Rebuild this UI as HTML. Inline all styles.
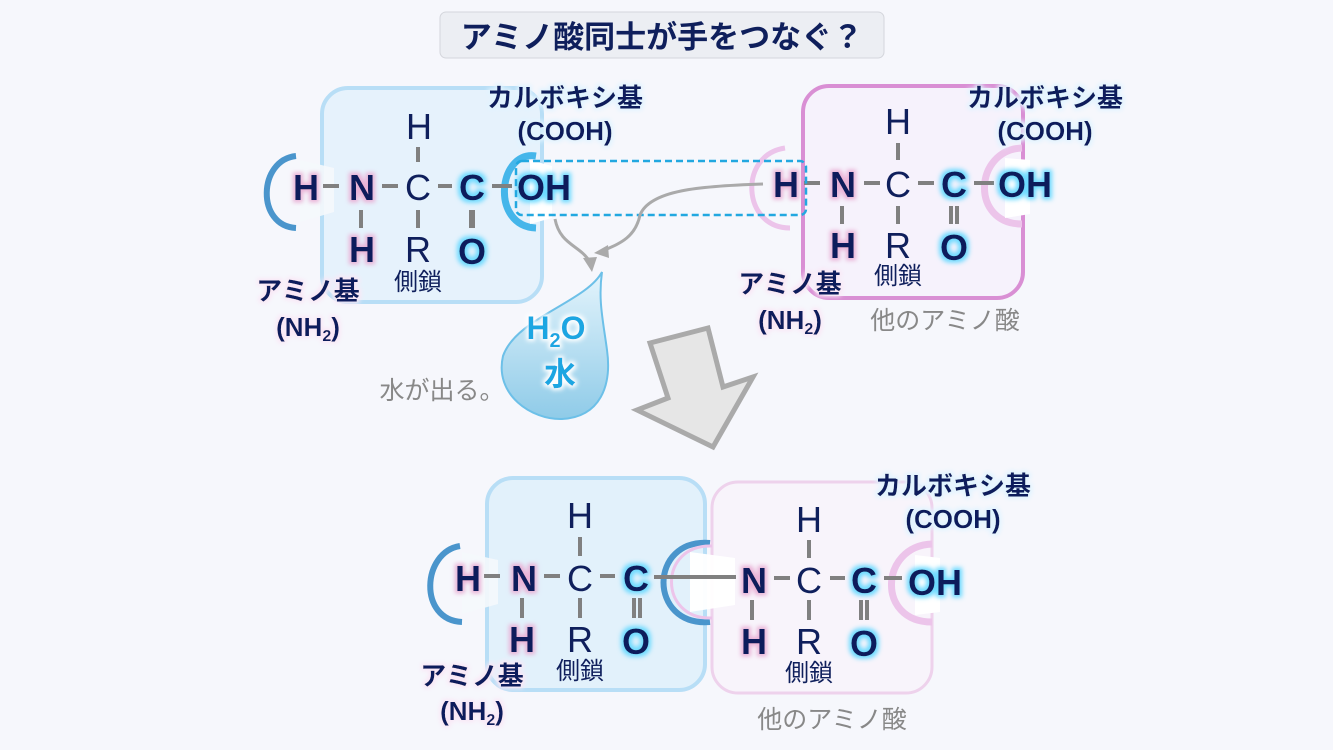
<!DOCTYPE html>
<html><head><meta charset="utf-8"><style>
html,body{margin:0;padding:0;background:#f6f7fc;}
svg{display:block;}
text{font-family:"Liberation Sans","Noto Sans CJK JP",sans-serif;}
.a{font-size:36px;fill:#0f1f5c;text-anchor:middle;}
.b{font-weight:bold;}
.lbl{font-size:26px;font-weight:bold;fill:#0f1f5c;text-anchor:middle;}
.sc{font-size:24px;fill:#0f1f5c;text-anchor:middle;font-family:"Noto Sans CJK JP",sans-serif;}
.gr{font-size:25px;fill:#888;text-anchor:middle;font-family:"Noto Sans CJK JP",sans-serif;}
</style></head><body>
<svg width="1333" height="750" viewBox="0 0 1333 750" xmlns="http://www.w3.org/2000/svg">
<defs>
<filter id="gp" x="-50%" y="-50%" width="200%" height="200%"><feMorphology in="SourceAlpha" operator="dilate" radius="2.5" result="d"/><feGaussianBlur in="d" stdDeviation="2"/><feColorMatrix type="matrix" values="0 0 0 0 0.82 0 0 0 0 0.45 0 0 0 0 0.68 0 0 0 1 0"/><feMerge><feMergeNode/><feMergeNode in="SourceGraphic"/></feMerge></filter>
<filter id="gb" x="-50%" y="-50%" width="200%" height="200%"><feMorphology in="SourceAlpha" operator="dilate" radius="2.5" result="d"/><feGaussianBlur in="d" stdDeviation="2.5"/><feColorMatrix type="matrix" values="0 0 0 0 0.15 0 0 0 0 0.7 0 0 0 0 1 0 0 0 1 0"/><feMerge><feMergeNode/><feMergeNode in="SourceGraphic"/></feMerge></filter>
<filter id="gw" x="-20%" y="-50%" width="140%" height="200%"><feMorphology in="SourceAlpha" operator="dilate" radius="2" result="d"/><feGaussianBlur in="d" stdDeviation="2"/><feColorMatrix type="matrix" values="0 0 0 0 1 0 0 0 0 1 0 0 0 0 1 0 0 0 1 0"/><feMerge><feMergeNode/><feMergeNode in="SourceGraphic"/></feMerge></filter>
<filter id="gwb" x="-20%" y="-50%" width="140%" height="200%"><feMorphology in="SourceAlpha" operator="dilate" radius="2" result="d"/><feGaussianBlur in="d" stdDeviation="2"/><feColorMatrix type="matrix" values="0 0 0 0 0.75 0 0 0 0 0.9 0 0 0 0 1 0 0 0 1 0"/><feMerge><feMergeNode/><feMergeNode in="SourceGraphic"/></feMerge></filter>
<filter id="gwp" x="-20%" y="-50%" width="140%" height="200%"><feMorphology in="SourceAlpha" operator="dilate" radius="2" result="d"/><feGaussianBlur in="d" stdDeviation="2"/><feColorMatrix type="matrix" values="0 0 0 0 0.95 0 0 0 0 0.8 0 0 0 0 0.92 0 0 0 1 0"/><feMerge><feMergeNode/><feMergeNode in="SourceGraphic"/></feMerge></filter>
<linearGradient id="drop" x1="0" y1="0" x2="0" y2="1"><stop offset="0" stop-color="#e4f4fc"/><stop offset="1" stop-color="#8fcbe8"/></linearGradient>
</defs>

<!-- title -->
<rect x="440" y="12" width="444" height="46" rx="6" fill="#eceef3" stroke="#d4d6dc"/>
<text x="662" y="48" font-size="31" font-weight="bold" fill="#0f1f5c" text-anchor="middle" style="font-family:'Noto Sans CJK JP',sans-serif">アミノ酸同士が手をつなぐ？</text>

<!-- TOP LEFT molecule -->
<rect x="322" y="88" width="220" height="214" rx="26" fill="#e6f2fc" stroke="#b8def6" stroke-width="4"/>
<path d="M296,156 C258,160 256,226 296,228" fill="none" stroke="#4a95cc" stroke-width="6"/>
<path d="M300,160 L334,168 L334,212 L300,222 Z" fill="#f5f8fc" opacity="0.9"/>
<path d="M536,156 C498,150 490,226 536,228" fill="none" stroke="#45b6ea" stroke-width="7"/>
<path d="M530,160 L552,166 L552,218 L530,224 Z" fill="#ffffff"/>
<g stroke="#808080" stroke-width="4">
<line x1="323" y1="186" x2="339" y2="186"/><line x1="382" y1="186" x2="398" y2="186"/><line x1="438" y1="186" x2="452" y2="186"/><line x1="492" y1="186" x2="512" y2="186"/>
<line x1="418" y1="147" x2="418" y2="162"/><line x1="418" y1="210" x2="418" y2="228"/><line x1="361" y1="210" x2="361" y2="228"/>
<line x1="472" y1="210" x2="472" y2="228" stroke-width="6"/>
</g>
<text class="a b" x="306" y="200" filter="url(#gp)">H</text>
<text class="a b" x="362" y="200" filter="url(#gp)">N</text>
<text class="a" x="418" y="200">C</text>
<text class="a b" x="472" y="200" filter="url(#gb)">C</text>
<text class="a b" x="544" y="200" filter="url(#gb)">OH</text>
<text class="a" x="419" y="139">H</text>
<text class="a b" x="362" y="262" filter="url(#gp)">H</text>
<text class="a" x="418" y="262">R</text>
<text class="a b" x="472" y="264" filter="url(#gb)">O</text>
<text class="sc" x="418" y="290">側鎖</text>
<text class="lbl" x="565" y="107" filter="url(#gwb)" style="font-family:'Noto Sans CJK JP',sans-serif">カルボキシ基</text>
<text class="lbl" x="565" y="140" filter="url(#gwb)">(COOH)</text>
<text class="lbl" x="308" y="300" filter="url(#gwp)" style="font-family:'Noto Sans CJK JP',sans-serif">アミノ基</text>
<text class="lbl" x="308" y="336" filter="url(#gwp)" font-size="24">(NH<tspan font-size="16" dy="5">2</tspan><tspan dy="-5">)</tspan></text>

<!-- TOP RIGHT molecule -->
<rect x="803" y="86" width="220" height="212" rx="26" fill="#f6f2fc" stroke="#d98fd4" stroke-width="4"/>
<path d="M785,148 C738,155 742,228 790,228" fill="none" stroke="#ecc4ea" stroke-width="5"/>
<path d="M1022,148 C974,150 970,224 1022,224" fill="none" stroke="#ecc4ea" stroke-width="7"/>
<path d="M1005,158 L1030,160 L1030,214 L1005,218 Z" fill="#ffffff"/>
<g stroke="#808080" stroke-width="4">
<line x1="804" y1="183" x2="820" y2="183"/><line x1="864" y1="183" x2="880" y2="183"/><line x1="918" y1="183" x2="934" y2="183"/><line x1="974" y1="183" x2="994" y2="183"/>
<line x1="898" y1="143" x2="898" y2="160"/><line x1="898" y1="206" x2="898" y2="224"/><line x1="842" y1="206" x2="842" y2="224"/>
<line x1="951" y1="206" x2="951" y2="224"/><line x1="957" y1="206" x2="957" y2="224"/>
</g>
<text class="a b" x="786" y="197" filter="url(#gp)">H</text>
<text class="a b" x="843" y="197" filter="url(#gp)">N</text>
<text class="a" x="898" y="197">C</text>
<text class="a b" x="954" y="197" filter="url(#gb)">C</text>
<text class="a b" x="1025" y="197" filter="url(#gb)">OH</text>
<text class="a" x="898" y="134">H</text>
<text class="a b" x="843" y="258" filter="url(#gp)">H</text>
<text class="a" x="898" y="258">R</text>
<text class="a b" x="954" y="260" filter="url(#gb)">O</text>
<text class="sc" x="898" y="284">側鎖</text>
<text class="lbl" x="1045" y="107" filter="url(#gwb)" style="font-family:'Noto Sans CJK JP',sans-serif">カルボキシ基</text>
<text class="lbl" x="1045" y="140" filter="url(#gwb)">(COOH)</text>
<text class="lbl" x="790" y="293" filter="url(#gwp)" style="font-family:'Noto Sans CJK JP',sans-serif">アミノ基</text>
<text class="lbl" x="790" y="329" filter="url(#gwp)" font-size="24">(NH<tspan font-size="16" dy="5">2</tspan><tspan dy="-5">)</tspan></text>
<text class="gr" x="945" y="329" font-size="23">他のアミノ酸</text>

<!-- dashed box and arrows -->
<rect x="516" y="161" width="290" height="54" rx="6" fill="none" stroke="#22a8e0" stroke-width="2.5" stroke-dasharray="7,4"/>
<path d="M555,219 C560,245 580,245 590,262" fill="none" stroke="#aaa" stroke-width="3"/>
<path d="M583,258 L592,272 L597,257 Z" fill="#aaa"/>
<path d="M763,184 C700,186 650,190 640,215 C635,240 615,245 600,252" fill="none" stroke="#aaa" stroke-width="3"/>
<path d="M608,245 L594,253 L609,258 Z" fill="#aaa"/>

<!-- droplet -->
<path d="M602,272 C586,302 516,318 503,356 C494,395 532,420 562,419 C600,417 612,386 607,350 C603,320 598,300 602,272 Z" fill="url(#drop)" stroke="#6dc0e8" stroke-width="2"/>
<text x="556" y="339" font-size="32" font-weight="bold" fill="#1aa6e2" text-anchor="middle" filter="url(#gw)">H<tspan font-size="20" dy="8">2</tspan><tspan dy="-8">O</tspan></text>
<text x="560" y="385" font-size="32" font-weight="bold" fill="#1aa6e2" text-anchor="middle" filter="url(#gw)" style="font-family:'Noto Sans CJK JP',sans-serif">水</text>
<text class="gr" x="442" y="399" text-anchor="middle" font-size="26">水が出る。</text>

<!-- big arrow -->
<polygon points="650,343 708,328 723,387 753,377 713,447 637,410 668,398" fill="#e6e6e6" stroke="#aaa" stroke-width="5" stroke-linejoin="miter"/>

<!-- BOTTOM -->
<rect x="487" y="478" width="218" height="212" rx="26" fill="#e2f1fb" stroke="#b8def6" stroke-width="4"/>
<rect x="712" y="482" width="220" height="211" rx="26" fill="#f8f4fb" stroke="#eed2ec" stroke-width="3"/>
<path d="M460,546 C422,552 418,620 462,622" fill="none" stroke="#4a95cc" stroke-width="6"/>
<path d="M462,552 L498,560 L498,604 L462,614 Z" fill="#f5f8fc" opacity="0.9"/>
<path d="M710,543 C648,538 648,627 710,622" fill="none" stroke="#4a95cc" stroke-width="6"/>
<path d="M712,546 C658,544 658,620 712,618" fill="none" stroke="#ecc4ea" stroke-width="3"/>
<path d="M690,552 L735,558 L735,605 L690,612 Z" fill="#ffffff" opacity="0.95"/>
<path d="M932,544 C880,546 876,622 932,622" fill="none" stroke="#ecc4ea" stroke-width="7"/>
<path d="M915,555 L940,558 L940,612 L915,615 Z" fill="#ffffff"/>
<g stroke="#808080" stroke-width="4">
<line x1="484" y1="576" x2="500" y2="576"/><line x1="544" y1="576" x2="560" y2="576"/><line x1="600" y1="576" x2="615" y2="576"/><line x1="654" y1="577" x2="736" y2="577"/>
<line x1="580" y1="537" x2="580" y2="556"/><line x1="580" y1="598" x2="580" y2="618"/><line x1="522" y1="598" x2="522" y2="618"/>
<line x1="634" y1="598" x2="634" y2="618"/><line x1="640" y1="598" x2="640" y2="618"/>
<line x1="774" y1="578" x2="790" y2="578"/><line x1="830" y1="578" x2="845" y2="578"/><line x1="884" y1="578" x2="902" y2="578"/>
<line x1="809" y1="540" x2="809" y2="558"/><line x1="809" y1="600" x2="809" y2="620"/><line x1="752" y1="600" x2="752" y2="620"/>
<line x1="861" y1="600" x2="861" y2="620"/><line x1="867" y1="600" x2="867" y2="620"/>
</g>
<text class="a b" x="468" y="591" filter="url(#gp)">H</text>
<text class="a b" x="524" y="591" filter="url(#gp)">N</text>
<text class="a" x="580" y="591">C</text>
<text class="a b" x="636" y="591" filter="url(#gb)">C</text>
<text class="a" x="580" y="528">H</text>
<text class="a b" x="522" y="652" filter="url(#gp)">H</text>
<text class="a" x="580" y="652">R</text>
<text class="a b" x="636" y="654" filter="url(#gb)">O</text>
<text class="sc" x="580" y="679">側鎖</text>
<text class="a b" x="754" y="593" filter="url(#gp)">N</text>
<text class="a" x="809" y="593">C</text>
<text class="a b" x="864" y="593" filter="url(#gb)">C</text>
<text class="a b" x="935" y="595" filter="url(#gb)">OH</text>
<text class="a" x="809" y="532">H</text>
<text class="a b" x="754" y="654" filter="url(#gp)">H</text>
<text class="a" x="809" y="654">R</text>
<text class="a b" x="864" y="656" filter="url(#gb)">O</text>
<text class="sc" x="809" y="681">側鎖</text>
<text class="lbl" x="953" y="495" filter="url(#gwb)" style="font-family:'Noto Sans CJK JP',sans-serif">カルボキシ基</text>
<text class="lbl" x="953" y="528" filter="url(#gwb)">(COOH)</text>
<text class="lbl" x="472" y="685" filter="url(#gwp)" style="font-family:'Noto Sans CJK JP',sans-serif">アミノ基</text>
<text class="lbl" x="472" y="720" filter="url(#gwp)" font-size="24">(NH<tspan font-size="16" dy="5">2</tspan><tspan dy="-5">)</tspan></text>
<text class="gr" x="832" y="728" font-size="23">他のアミノ酸</text>
</svg>
</body></html>
